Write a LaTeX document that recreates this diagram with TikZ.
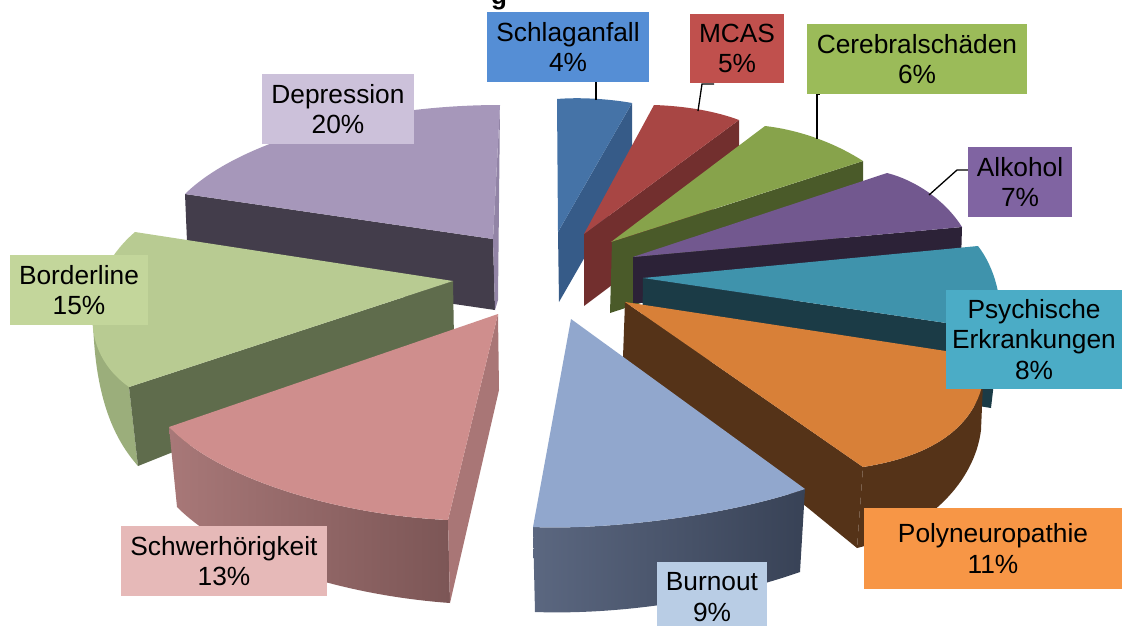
\documentclass[tikz,border=0pt]{standalone}
\usepackage{fontspec}
\setmainfont{Liberation Sans}
\definecolor{bSchl}{HTML}{558ED5}
\definecolor{bMcas}{HTML}{C0504D}
\definecolor{bCere}{HTML}{9BBB59}
\definecolor{bAlko}{HTML}{8064A2}
\definecolor{bPsy}{HTML}{4BACC6}
\definecolor{bPoly}{HTML}{F79646}
\definecolor{bBurn}{HTML}{B9CDE5}
\definecolor{bSchw}{HTML}{E6B9B8}
\definecolor{bBord}{HTML}{C3D69B}
\definecolor{bDepr}{HTML}{CCC1DA}
\definecolor{tSchl}{HTML}{4573A7}
\definecolor{sSchl}{HTML}{365B88}
\definecolor{tMcas}{HTML}{A84644}
\definecolor{sMcas}{HTML}{722F2E}
\definecolor{tCere}{HTML}{87A34B}
\definecolor{sCere}{HTML}{4A5A29}
\definecolor{tAlko}{HTML}{72588F}
\definecolor{sAlko}{HTML}{2C2237}
\definecolor{tPsy}{HTML}{3F93AC}
\definecolor{sPsy}{HTML}{1B3B46}
\definecolor{tPoly}{HTML}{D88038}
\definecolor{sPoly}{HTML}{553318}
\definecolor{tBurn}{HTML}{91A7CD}
\definecolor{rBurnL}{HTML}{5B6780}
\definecolor{rBurnR}{HTML}{384256}
\definecolor{tSchw}{HTML}{CF8E8D}
\definecolor{sSchw}{HTML}{A97676}
\definecolor{rSchwL}{HTML}{A87878}
\definecolor{rSchwR}{HTML}{7C5656}
\definecolor{tBord}{HTML}{B8CB92}
\definecolor{sBord}{HTML}{5F6C4C}
\definecolor{rBord}{HTML}{9BAE7B}
\definecolor{tDepr}{HTML}{A697BA}
\definecolor{sDepr}{HTML}{433D4B}
\definecolor{eDepr}{HTML}{9284A6}
\begin{document}
\begin{tikzpicture}[x=1pt,y=-1pt,
  lbl/.style={inner sep=0pt, align=center, font=\fontsize{26.3}{30.5}\selectfont, text=black},
  lead/.style={draw=black, line width=1.3pt}]
\useasboundingbox (0,0) rectangle (1122,625);

% cut-off title (only its lowest part lies inside the picture)
\node[anchor=base, inner sep=0pt, font=\fontsize{26}{30}\selectfont\bfseries] (title) at (499,4) {g};

% Depression
\fill[sDepr] (185,194) -- (493,239) -- (495,310) -- (188,265) -- cycle;
\fill[eDepr] (493,239) -- (500,105) -- (498,300) -- (495,310) -- cycle;
\fill[tDepr] (185,194) .. controls (240,140) and (370,105) .. (500,105) -- (493,239) -- cycle;

% Schlaganfall
\fill[sSchl] (558,232) -- (632,103) -- (632,175) -- (559,302) -- cycle;
\fill[tSchl] (557,99) .. controls (580,97) and (610,99) .. (632,103) -- (558,232) -- cycle;
\coordinate (p-schl) at (596,100);

% MCAS
\fill[sMcas] (584,234) -- (739,120) -- (739,190) -- (584,306) -- cycle;
\fill[tMcas] (654,105) .. controls (685,106) and (715,111) .. (739,120) -- (584,234) -- cycle;
\coordinate (p-mcas) at (698,111);
\coordinate (k-mcas) at (702,84);

% Cerebralschaeden
\fill[sCere] (612,242) -- (863,161) -- (863,231) -- (610,313) -- cycle;
\fill[tCere] (765,126) .. controls (800,130) and (835,143) .. (863,161) -- (611,242) -- cycle;
\coordinate (p-cere) at (817,139);

% Alkohol
\fill[sAlko] (633,257) -- (962,227) -- (960,297) -- (633,303) -- cycle;
\fill[tAlko] (887,173) .. controls (915,180) and (945,200) .. (962,227) -- (633,257) -- cycle;
\coordinate (p-alko) at (929,195);
\coordinate (k-alko) at (957,170);

% Psychische Erkrankungen
\fill[sPsy] (643,278) -- (1000,331) -- (991,408) -- (642,350) -- cycle;
\fill[tPsy] (643,278) -- (978,246) .. controls (995,268) and (1003,300) .. (1000,331) -- cycle;

% Borderline
\fill[rBord] (110,318) -- (93,320) .. controls (95,400) and (115,440) .. (138,466) -- (129,387) -- cycle;
\fill[sBord] (129,387) -- (453,281) -- (454,340) -- (138,466) -- cycle;
\fill[tBord] (135,232) .. controls (90,270) and (70,345) .. (129,387) -- (453,281) -- cycle;

% Polyneuropathie
\fill[sPoly] (625,302) -- (863,467) -- (857,548) -- (623,357) -- cycle;
\fill[sPoly] (863,467) -- (857,548) .. controls (930,530) and (975,480) .. (981,430) -- (984,360) -- (985,357) .. controls (987,420) and (940,455) .. (863,467) -- cycle;
\fill[tPoly] (625,302) -- (985,357) .. controls (987,420) and (940,455) .. (863,467) -- cycle;

% Schwerhoerigkeit
\shade[left color=rSchwL, right color=rSchwR] (169,427) -- (177,507) .. controls (230,560) and (340,595) .. (450,603) -- (448,520) .. controls (340,515) and (220,480) .. (169,427) -- cycle;
\fill[sSchw] (498,314) -- (448,520) -- (450,603) -- (499,390) -- cycle;
\fill[tSchw] (169,427) .. controls (220,480) and (340,515) .. (448,520) -- (498,314) -- cycle;

% Burnout
\shade[left color=rBurnL, right color=rBurnR] (533,527) -- (535,612) .. controls (620,615) and (720,600) .. (800,572) -- (805,489) .. controls (720,518) and (600,530) .. (533,527) -- cycle;
\fill[tBurn] (571,319) -- (805,489) .. controls (720,518) and (600,530) .. (533,527) -- cycle;

% labels
\node[lbl, fill=bDepr, minimum width=152pt, minimum height=70pt] (l-depr) at (338,109) {Depression\\20\%};
\node[lbl, fill=bBord, minimum width=138pt, minimum height=70pt] (l-bord) at (79,290) {Borderline\\15\%};
\node[lbl, fill=bSchw, minimum width=206pt, minimum height=70pt] (l-schw) at (224,561) {Schwerhörigkeit\\13\%};
\node[lbl, fill=bBurn, minimum width=110pt, minimum height=70pt] (l-burn) at (712,597) {Burnout\\9\%};
\node[lbl, fill=bPoly, minimum width=258pt, minimum height=81pt] (l-poly) at (993,548.5) {Polyneuropathie\\11\%};
\node[lbl, fill=bPsy, minimum width=176pt, minimum height=99pt] (l-psy) at (1034,339.5) {Psychische\\Erkrankungen\\8\%};
\node[lbl, fill=bAlko, minimum width=104pt, minimum height=70pt] (l-alko) at (1020,182) {Alkohol\\7\%};
\node[lbl, fill=bCere, minimum width=220pt, minimum height=70pt] (l-cere) at (917,59) {Cerebralschäden\\6\%};
\node[lbl, fill=bMcas, minimum width=94pt, minimum height=69pt] (l-mcas) at (737,48.5) {MCAS\\5\%};
\node[lbl, fill=bSchl, minimum width=162pt, minimum height=70pt] (l-schl) at (568,47) {Schlaganfall\\4\%};

% leader lines
\draw[lead] (p-schl) -- (p-schl |- l-schl.south);
\draw[lead] (p-mcas) -- (k-mcas) -- ++(12,0);
\draw[lead] (p-cere) -- (p-cere |- l-cere.south) -- ++(3,0);
\draw[lead] (p-alko) -- (k-alko) -- (k-alko -| l-alko.west);
\end{tikzpicture}
\end{document}
